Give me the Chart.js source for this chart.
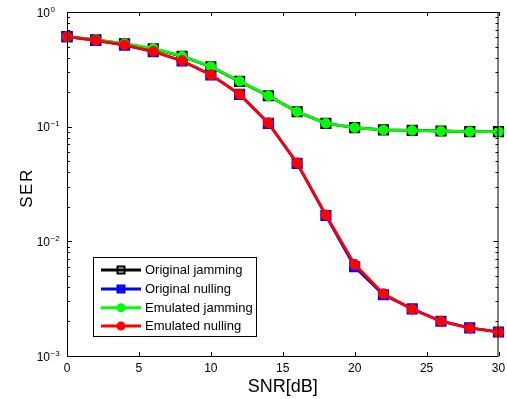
<!DOCTYPE html>
<html>
<head>
<meta charset="utf-8">
<script src="https://cdn.jsdelivr.net/npm/chart.js@4/dist/chart.umd.min.js"></script>
<style>
html,body{margin:0;padding:0;background:#fff;}
#wrap{width:507px;height:399px;position:relative;}
</style>
</head>
<body>
<div id="wrap"><canvas id="c" width="507" height="399"></canvas></div>
<script>
const snr = [0,2,4,6,8,10,12,14,16,18,20,22,24,26,28,30];
const originalJamming = [0.61,0.572,0.528,0.478,0.41,0.333,0.248,0.186,0.135,0.107,0.098,0.0937,0.093,0.0917,0.0905,0.0905];
const originalNulling = [0.61,0.566,0.514,0.452,0.374,0.283,0.191,0.107,0.0478,0.0168,0.0060,0.00342,0.00258,0.00201,0.00176,0.00162];
const emulatedJamming = [0.61,0.575,0.53,0.482,0.412,0.334,0.249,0.186,0.135,0.107,0.098,0.0935,0.0928,0.0915,0.0905,0.0905];
const emulatedNulling = [0.61,0.566,0.516,0.454,0.376,0.284,0.192,0.108,0.0482,0.0170,0.0063,0.00349,0.00256,0.00201,0.00175,0.00162];
const seriesLabels = ['Original jamming','Original nulling','Emulated jamming','Emulated nulling'];
const xTicks = [0,5,10,15,20,25,30];
const yDecades = [0,-1,-2,-3];
const xTitle = 'SNR[dB]';
const yTitle = 'SER';

const pts = arr => snr.map((s,i)=>({x:s,y:arr[i]}));

const styles = [
  {color:'#000000', pointStyle:'rect', radius:6.5, fill:'rgba(0,0,0,0)', bw:2},
  {color:'#0000ff', pointStyle:'rect', radius:6.5, fill:'rgba(0,0,255,0.85)', bw:2},
  {color:'#00ff00', pointStyle:'circle', radius:4.8, fill:'#00ff00', bw:1},
  {color:'#ff0000', pointStyle:'circle', radius:5, fill:'#ff0000', bw:1}
];
const seriesData = [originalJamming, originalNulling, emulatedJamming, emulatedNulling];

const datasets = seriesData.map((arr,i)=>({
  label: seriesLabels[i],
  data: pts(arr),
  order: 3-i,
  borderColor: styles[i].color,
  backgroundColor: styles[i].fill,
  borderWidth: 2.8,
  pointStyle: styles[i].pointStyle,
  pointRadius: styles[i].radius,
  pointBorderWidth: styles[i].bw,
  pointBorderColor: styles[i].color,
  pointBackgroundColor: styles[i].fill,
  tension: 0,
  clip: false
}));

const axesPlugin = {
  id:'axesPlugin',
  afterDraw(chart){
    const ctx = chart.ctx;
    const a = chart.chartArea;
    const xs = chart.scales.x, ys = chart.scales.y;
    ctx.save();
    ctx.strokeStyle = '#000';
    ctx.lineWidth = 1;
    ctx.strokeRect(a.left+0.5, a.top+0.5, a.right-a.left-1, a.bottom-a.top);
    ctx.beginPath();
    xTicks.forEach(v=>{
      const px = Math.round(xs.getPixelForValue(v))+0.5;
      ctx.moveTo(px, a.bottom); ctx.lineTo(px, a.bottom-4);
      ctx.moveTo(px, a.top); ctx.lineTo(px, a.top+4);
    });
    yDecades.forEach(d=>{
      const py = Math.round(ys.getPixelForValue(Math.pow(10,d)))+0.5;
      ctx.moveTo(a.left, py); ctx.lineTo(a.left+5, py);
      ctx.moveTo(a.right, py); ctx.lineTo(a.right-5, py);
      if (d < 0) {
        for (let m=2;m<=9;m++){
          const pm = Math.round(ys.getPixelForValue(m*Math.pow(10,d)))+0.5;
          ctx.moveTo(a.left, pm); ctx.lineTo(a.left+3, pm);
          ctx.moveTo(a.right, pm); ctx.lineTo(a.right-3, pm);
        }
      }
    });
    ctx.stroke();
    ctx.fillStyle = '#000';
    ctx.font = '12px "Liberation Sans", Arial, sans-serif';
    ctx.textAlign = 'center';
    ctx.textBaseline = 'alphabetic';
    xTicks.forEach(v=>{
      ctx.fillText(String(v), xs.getPixelForValue(v), 372);
    });
    yDecades.forEach(d=>{
      const py = ys.getPixelForValue(Math.pow(10,d));
      ctx.font = '12px "Liberation Sans", Arial, sans-serif';
      ctx.textAlign = 'right';
      ctx.fillText('10', 50, py+4.5);
      ctx.font = '8px "Liberation Sans", Arial, sans-serif';
      ctx.textAlign = 'left';
      ctx.fillText(d===0 ? '0' : '\u2212'+(-d), 50.5, py-0.5);
    });
    ctx.font = '18px "Liberation Sans", Arial, sans-serif';
    ctx.textAlign = 'center';
    ctx.fillText(xTitle, (a.left+a.right)/2, 392);
    ctx.save();
    ctx.translate(27, 188);
    ctx.rotate(-Math.PI/2);
    ctx.font = '17px "Liberation Sans", Arial, sans-serif';
    try { ctx.letterSpacing = '1.5px'; } catch(e){}
    ctx.textBaseline = 'middle';
    ctx.fillText(yTitle, 0, 0);
    ctx.restore();
    const lx = 93.5, ly = 257.5, lw = 163, lh = 79;
    ctx.fillStyle = '#fff';
    ctx.fillRect(lx, ly, lw, lh);
    ctx.strokeStyle = '#000';
    ctx.lineWidth = 1;
    ctx.strokeRect(lx, ly, lw, lh);
    const rows = [270, 289, 307.7, 326];
    ctx.font = '13px "Liberation Sans", Arial, sans-serif';
    ctx.textAlign = 'left';
    ctx.textBaseline = 'middle';
    datasets.forEach((ds,i)=>{
      const y = rows[i];
      ctx.strokeStyle = ds.borderColor;
      ctx.lineWidth = 3;
      ctx.beginPath(); ctx.moveTo(101,y); ctx.lineTo(141,y); ctx.stroke();
      const st = styles[i];
      ctx.lineWidth = st.bw;
      ctx.fillStyle = st.fill;
      ctx.strokeStyle = st.color;
      if (st.pointStyle === 'rect') {
        const s = 7;
        ctx.fillRect(121-s/2, y-s/2, s, s);
        ctx.strokeRect(121-s/2, y-s/2, s, s);
      } else {
        ctx.beginPath(); ctx.arc(121, y, 4.5, 0, Math.PI*2); ctx.fill();
      }
      ctx.fillStyle = '#000';
      ctx.fillText(ds.label, 145, y+0.5);
    });
    ctx.restore();
  }
};

new Chart(document.getElementById('c'), {
  type:'line',
  data:{datasets},
  options:{
    responsive:false,
    animation:false,
    layout:{padding:{left:67, right:4, top:12, bottom:43}},
    plugins:{legend:{display:false}, tooltip:{enabled:false}},
    scales:{
      x:{type:'linear', min:0, max:30, display:false},
      y:{type:'logarithmic', min:0.001, max:1, display:false}
    }
  },
  plugins:[axesPlugin]
});
</script>
</body>
</html>
